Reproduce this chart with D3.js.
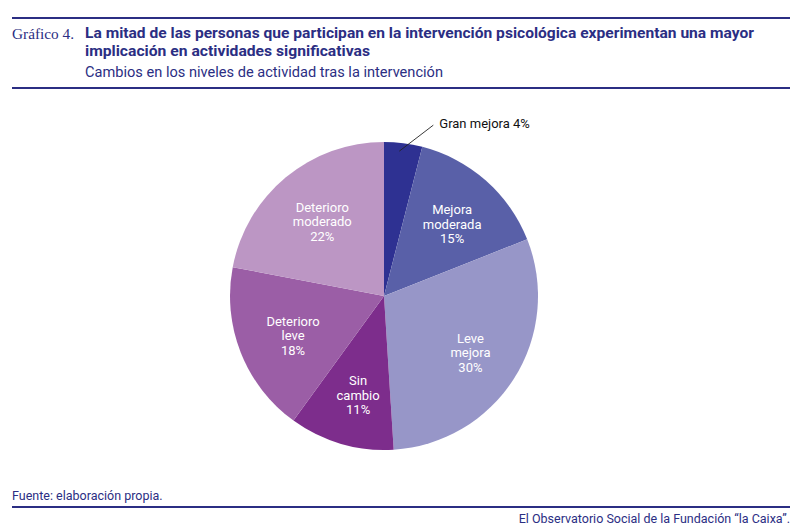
<!DOCTYPE html>
<html><head><meta charset="utf-8">
<script src="https://cdn.jsdelivr.net/npm/d3@7"></script>
<style>body{margin:0;background:#fff}svg{display:block}</style>
</head><body>
<svg id="c" width="800" height="531"></svg>
<script>
const categories = ["Gran mejora", "Mejora moderada", "Leve mejora", "Sin cambio", "Deterioro leve", "Deterioro moderado"];
const values = [4, 15, 30, 11, 18, 22];
const labelLines = [["Gran mejora 4%"], ["Mejora", "moderada", "15%"], ["Leve", "mejora", "30%"], ["Sin", "cambio", "11%"], ["Deterioro", "leve", "18%"], ["Deterioro", "moderado", "22%"]];
const colors = ["#2e3192", "#5960a8", "#9796c8", "#7d2d8c", "#9b5ea6", "#bc96c4"];

const navy = "#2b2e83";
const svg = d3.select("#c");
const narrow = "'Liberation Sans Narrow','Roboto','Liberation Sans',sans-serif";

// header
svg.append("line").attr("x1", 12).attr("x2", 790).attr("y1", 18).attr("y2", 18).attr("stroke", navy).attr("stroke-width", 2);
svg.append("line").attr("x1", 12).attr("x2", 790).attr("y1", 88).attr("y2", 88).attr("stroke", navy).attr("stroke-width", 2);
svg.append("text").attr("x", 12).attr("y", 39).attr("fill", navy).attr("font-family", "'Liberation Serif','DejaVu Serif',serif").attr("font-size", 15.5)
  .attr("textLength", 62).attr("lengthAdjust", "spacingAndGlyphs").text("Gráfico 4.");
svg.append("text").attr("x", 85).attr("y", 38).attr("fill", navy).attr("font-family", narrow).attr("font-weight", "bold").attr("font-size", 15)
  .attr("textLength", 669).attr("lengthAdjust", "spacingAndGlyphs")
  .text("La mitad de las personas que participan en la intervención psicológica experimentan una mayor");
svg.append("text").attr("x", 85).attr("y", 56).attr("fill", navy).attr("font-family", narrow).attr("font-weight", "bold").attr("font-size", 15)
  .attr("textLength", 285).attr("lengthAdjust", "spacingAndGlyphs")
  .text("implicación en actividades significativas");
svg.append("text").attr("x", 85).attr("y", 77).attr("fill", navy).attr("font-family", narrow).attr("font-size", 14.5)
  .attr("textLength", 358).attr("lengthAdjust", "spacingAndGlyphs")
  .text("Cambios en los niveles de actividad tras la intervención");

// pie
const cx = 384, cy = 296, R = 154;
const pie = d3.pie().sort(null).value(d => d)(values);
const arc = d3.arc().innerRadius(0).outerRadius(R);
const labelArc = d3.arc().innerRadius(100).outerRadius(100);
const leaderIn = d3.arc().innerRadius(146).outerRadius(146);
const g = svg.append("g").attr("transform", `translate(${cx},${cy})`);
g.selectAll("path").data(pie).join("path").attr("d", arc).attr("fill", (d, i) => colors[i]);

pie.forEach((d, i) => {
  if (i === 0) {
    const p = leaderIn.centroid(d);
    g.append("line").attr("x1", p[0] - 3).attr("y1", p[1]).attr("x2", p[0] + 31).attr("y2", p[1] - 26)
      .attr("stroke", "#222").attr("stroke-width", 0.9);
    g.append("text").attr("x", p[0] + 37).attr("y", p[1] - 23).attr("fill", "#111")
      .attr("font-family", narrow).attr("font-size", 13).text(labelLines[i][0]);
    return;
  }
  const c = labelArc.centroid(d);
  const lines = labelLines[i];
  const lh = 14.5;
  const t = g.append("text").attr("text-anchor", "middle").attr("fill", "#fff")
    .attr("font-family", narrow).attr("font-size", 13);
  lines.forEach((ln, k) => {
    t.append("tspan").attr("x", c[0] + 2).attr("y", c[1] + (k - (lines.length - 1) / 2) * lh + 7.5).text(ln);
  });
});

// footer
svg.append("text").attr("x", 12).attr("y", 500).attr("fill", navy).attr("font-family", narrow).attr("font-size", 12.5).text("Fuente: elaboración propia.");
svg.append("line").attr("x1", 12).attr("x2", 790).attr("y1", 507).attr("y2", 507).attr("stroke", navy).attr("stroke-width", 2);
svg.append("text").attr("x", 790).attr("y", 523).attr("text-anchor", "end").attr("fill", navy).attr("font-family", narrow).attr("font-size", 12.5).text("El Observatorio Social de la Fundación “la Caixa”.");
</script>
</body></html>
